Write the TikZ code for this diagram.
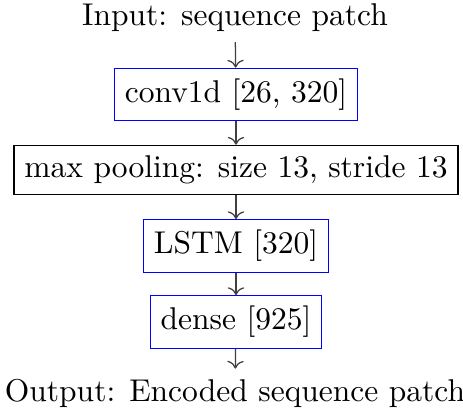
\documentclass[tikz,border=0pt]{standalone}
\usetikzlibrary{arrows.meta}
\begin{document}
\begin{tikzpicture}[x=0.3174pt,y=-0.3174pt,
  layer/.style={draw=black, line width=0.4pt, inner sep=3.33pt},
  learned/.style={layer, draw=blue},
  flow/.style={->, draw=black!75}]
\useasboundingbox (0,0) rectangle (463,412);
\node[anchor=base] (in) at (235,25) {Input: sequence patch};
\node[learned] (conv) at (236,94.5) {conv1d [26, 320]};
\node[layer] (pool) at (236,170) {max pooling: size 13, stride 13};
\node[learned] (lstm) at (236,246) {LSTM [320]};
\node[learned] (dense) at (236,322) {dense [925]};
\node[anchor=base] (out) at (235,402) {Output: Encoded sequence patch};
\draw[flow] (in) -- (conv);
\draw[flow] (conv) -- (pool);
\draw[flow] (pool) -- (lstm);
\draw[flow] (lstm) -- (dense);
\draw[flow] (dense) -- (out);
\end{tikzpicture}
\end{document}
